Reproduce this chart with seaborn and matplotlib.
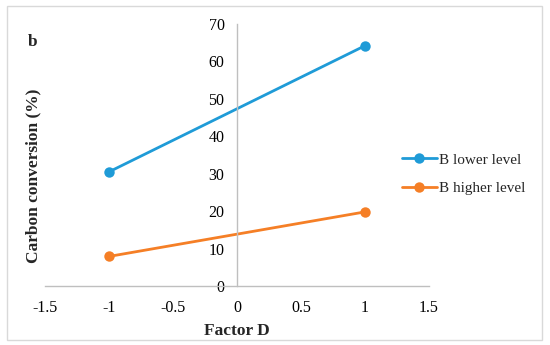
import pandas as pd
import seaborn as sns
import matplotlib.pyplot as plt
from matplotlib.patches import Rectangle

# data
factor_d = [-1, 1]
b_lower = [30.5, 64.2]
b_higher = [7.9, 19.8]
series_names = ['B lower level', 'B higher level']
colors = ['#1f9bd7', '#f57f26']

df = pd.DataFrame({
    'Factor D': factor_d * 2,
    'Carbon conversion (%)': b_lower + b_higher,
    'series': [series_names[0]] * 2 + [series_names[1]] * 2,
})

sns.set_style('white')
plt.rcParams['font.family'] = ['Liberation Serif', 'DejaVu Serif']

fig = plt.figure(figsize=(5.5, 3.45), dpi=100)
ax = fig.add_axes([45 / 550, 59 / 345, 384 / 550, 262 / 345])

sns.lineplot(data=df, x='Factor D', y='Carbon conversion (%)', hue='series',
             palette=colors, marker='o', markersize=7.5, markeredgewidth=0,
             linewidth=2, ax=ax)

ax.set_xlim(-1.5, 1.5)
ax.set_ylim(0, 70)
ax.set_xticks([-1.5, -1, -0.5, 0, 0.5, 1, 1.5])
ax.set_xticklabels(['-1.5', '-1', '-0.5', '0', '0.5', '1', '1.5'])
ax.set_yticks(range(0, 71, 10))

# Excel style: axes cross at the origin
ax.spines['left'].set_position(('data', 0))
ax.spines['top'].set_visible(False)
ax.spines['right'].set_visible(False)
for s in ['left', 'bottom']:
    ax.spines[s].set_color('#bfbfbf')
    ax.spines[s].set_linewidth(1)
ax.tick_params(axis='both', direction='in', length=4, color='#bfbfbf',
               labelsize=11.5, labelcolor='black')
ax.tick_params(axis='x', pad=10)
ax.tick_params(axis='y', pad=9)

ax.set_xlabel('')
ax.set_ylabel('')
fig.text(237 / 550, 1 - 331 / 345, 'Factor D', ha='center', va='center',
         fontsize=12.5, fontweight='bold')
fig.text(33 / 550, 1 - 176 / 345, 'Carbon conversion (%)', ha='center', va='center',
         rotation=90, fontsize=12.5, fontweight='bold')
fig.text(33 / 550, 1 - 42 / 345, 'b', ha='center', va='center',
         fontsize=12.5, fontweight='bold')

ax.legend(loc='center left', bbox_to_anchor=(388 / 550, 1 - 174 / 345),
          bbox_transform=fig.transFigure, frameon=False, fontsize=11,
          handlelength=2.3, handletextpad=0.15, labelspacing=0.95)

fig.patches.append(Rectangle((7 / 550, 5 / 345), 535 / 550, 334 / 345,
                             transform=fig.transFigure, fill=False,
                             edgecolor='#d9d9d9', linewidth=1))

fig.savefig('out.png', dpi=100)
